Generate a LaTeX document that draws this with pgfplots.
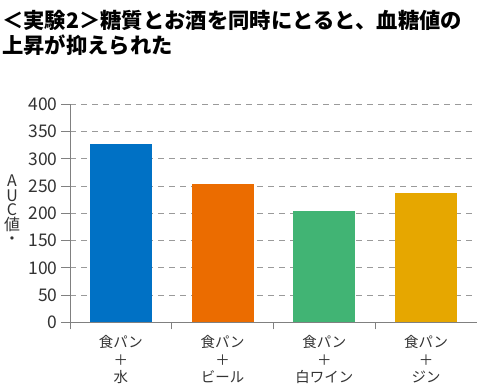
\documentclass[border=0pt]{standalone}
\usepackage{pgfplots}
\pgfplotsset{compat=1.18}
\usepackage{fontspec}
\setmainfont{Noto Sans CJK JP}
\definecolor{cblue}{HTML}{0071C5}
\definecolor{corange}{HTML}{EB6C00}
\definecolor{cgreen}{HTML}{41B474}
\definecolor{cgold}{HTML}{E6A700}
\definecolor{txt}{HTML}{333333}
\definecolor{axg}{HTML}{808080}
\definecolor{grd}{HTML}{9A9A9A}
\begin{document}
\begin{tikzpicture}[x=1bp,y=1bp]
\useasboundingbox[fill=white] (0,0) rectangle (480,386);
\node[anchor=west, inner sep=0, font=\bfseries\fontsize{21.4}{24}\selectfont] at (2,366) {＜実験2＞糖質とお酒を同時にとると、血糖値の};
\node[anchor=west, inner sep=0, font=\bfseries\fontsize{21.4}{24}\selectfont] at (2,341) {上昇が抑えられた};
\node[align=center, inner sep=0, text=txt, font=\fontsize{16}{14.5}\selectfont] at (12,176) {A\\U\\C\\値\\・};
\begin{axis}[
  at={(70bp,63.7bp)}, anchor=south west,
  scale only axis, width=407bp, height=218bp,
  xmin=0, xmax=4, ymin=0, ymax=400,
  axis lines=left, axis line style={-, draw=axg, line width=0.8bp},
  ytick={0,50,...,400},
  ymajorgrids, major grid style={dashed, draw=grd, line width=0.7bp, dash pattern=on 6bp off 5bp},
  tick align=outside, major tick length=9bp,
  major tick style={draw=axg, line width=0.8bp},
  xtick={0.5,1.5,2.5,3.5},
  xticklabels={{食パン\\＋\\水},{食パン\\＋\\ビール},{食パン\\＋\\白ワイン},{食パン\\＋\\ジン}},
  major x tick style={draw=none},
  xticklabel style={align=center, text=txt, font=\fontsize{14.5}{17.5}\selectfont, yshift=-1bp},
  yticklabel style={text=txt, font=\fontsize{17.5}{18}\selectfont},
  /pgf/number format/assume math mode=true,
  extra x ticks={0,1,2,3},
  extra x tick labels={},
  extra x tick style={major tick length=7bp, major x tick style={draw=axg, line width=0.8bp}, grid=none},
  clip=false,
]
\addplot[ybar, bar width=62bp, bar shift=0pt, fill=cblue, draw=none] coordinates {(0.5,327)};
\addplot[ybar, bar width=62bp, bar shift=0pt, fill=corange, draw=none] coordinates {(1.5,254)};
\addplot[ybar, bar width=62bp, bar shift=0pt, fill=cgreen, draw=none] coordinates {(2.5,205)};
\addplot[ybar, bar width=62bp, bar shift=0pt, fill=cgold, draw=none] coordinates {(3.5,237)};
\end{axis}
\end{tikzpicture}
\end{document}
